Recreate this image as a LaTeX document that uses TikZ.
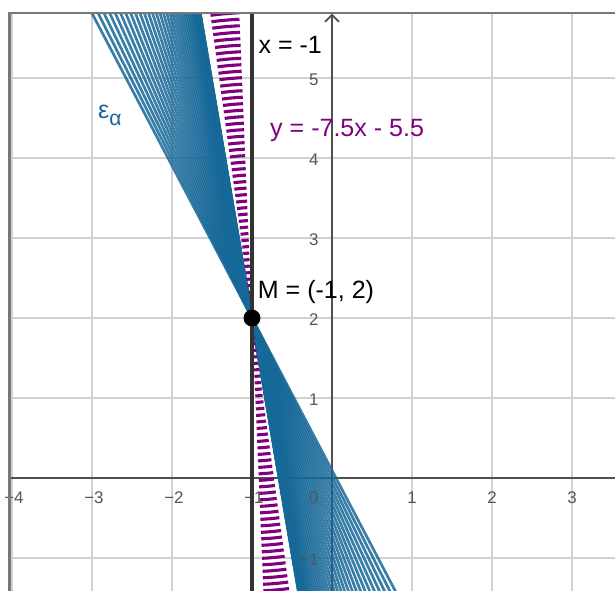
\documentclass[tikz,border=0pt]{standalone}
\usepackage{fontspec}
\setmainfont{Liberation Sans}
\usetikzlibrary{calc}
\definecolor{fanblue}{RGB}{22,104,152}
\definecolor{lblblue}{RGB}{21,101,160}
\definecolor{ggpurple}{RGB}{128,0,128}
\definecolor{gridgray}{RGB}{210,210,210}
\definecolor{axisgray}{RGB}{80,80,80}
\definecolor{framegray}{RGB}{120,120,120}
\definecolor{ticktext}{RGB}{85,85,85}
\begin{document}
\begin{tikzpicture}[x=1cm,y=1cm,
  gridline/.style={draw=gridgray, line width=0.55pt},
  axisline/.style={draw=axisgray, line width=0.65pt},
  fanline/.style={draw=fanblue, line width=0.95pt, opacity=0.85},
  hatcharc/.style={draw=ggpurple, line width=1.1pt},
  vline/.style={draw=black!80, line width=1.1pt},
  ticklbl/.style={text=ticktext, font=\fontsize{6}{7}\selectfont, inner sep=0pt},
  eqlbl/.style={font=\fontsize{8.9}{10}\selectfont, inner sep=0pt, anchor=base west},
  framebox/.style={draw=framegray, line width=0.9pt}
]
\useasboundingbox[fill=white] (-4.15,-1.4) rectangle (3.5375,5.975);
\coordinate (M) at (-1,2);
\coordinate (ytip) at (0,5.79);
\begin{scope}
  \clip (-4.031,-1.4) rectangle (3.5375,5.8125);
  % grid
  \foreach \x in {-4,...,3} \draw[gridline] (\x,-1.5) -- (\x,6);
  \foreach \y in {-1,...,5} \draw[gridline] (-4.2,\y) -- (3.6,\y);
  % axes
  \draw[axisline] (-4.2,0) -- (3.6,0);
  \draw[axisline] (0,-1.5) -- (ytip);
  \draw[axisline] ($(ytip)+(-0.0875,-0.0875)$) -- (ytip) -- ($(ytip)+(0.0875,-0.0875)$);
  % blue family of lines through M
  \foreach \i in {0,...,40} {
    \pgfmathsetmacro{\u}{0.17+0.355*(\i/40)^2.3}
    \draw[fanline] ($(M)+(4.3*\u,-4.3)$) -- ($(M)+(-4.3*\u,4.3)$);
  }
\end{scope}
% tick labels
\foreach \x/\t in {-4/−4,-3/−3,-2/−2,-1/−1}
  \node[ticklbl, anchor=base] at (\x+0.025,-0.3125) {\t};
\foreach \x/\t in {1/1,2/2,3/3}
  \node[ticklbl, anchor=base] at (\x,-0.3125) {\t};
\node[ticklbl, anchor=base] (t0) at (-0.23,-0.3125) {0};
\foreach \y/\t in {-1/−1,1/1,2/2,3/3,4/4,5/5}
  \node[ticklbl, anchor=base east] at (-0.1625,\y-0.095) {\t};
\begin{scope}
  \clip (-4.031,-1.4) rectangle (3.5375,5.8125);
  % purple hatched wedge
  \foreach \k in {1,...,62} {
    \pgfmathsetmacro{\r}{\k*0.08125}
    \draw[hatcharc] ($(M)+(92.4:\r)$) arc[start angle=92.4, end angle=97.8, radius=\r];
    \draw[hatcharc] ($(M)+(272.4:\r)$) arc[start angle=272.4, end angle=277.8, radius=\r];
  }
  % line x = -1
  \draw[vline] (-1,-1.5) -- (-1,6);
\end{scope}
% frame
\draw[framebox] (-4.031,-1.45) -- (-4.031,5.8125) -- (3.6,5.8125);
% point M
\fill[black] (M) circle (0.106);
% labels
\node[eqlbl] (lx) at (-0.925,5.309) {x = -1};
\node[eqlbl, text=ggpurple] (ly) at (-0.779,4.271) {y = -7.5x - 5.5};
\node[eqlbl] (lm) at (-0.9325,2.246) {M = (-1, 2)};
\node[eqlbl, text=lblblue] (le) at (-2.93,4.496) {ε\raisebox{-0.3em}{\fontsize{7.5}{8}\selectfont α}};
\end{tikzpicture}
\end{document}
